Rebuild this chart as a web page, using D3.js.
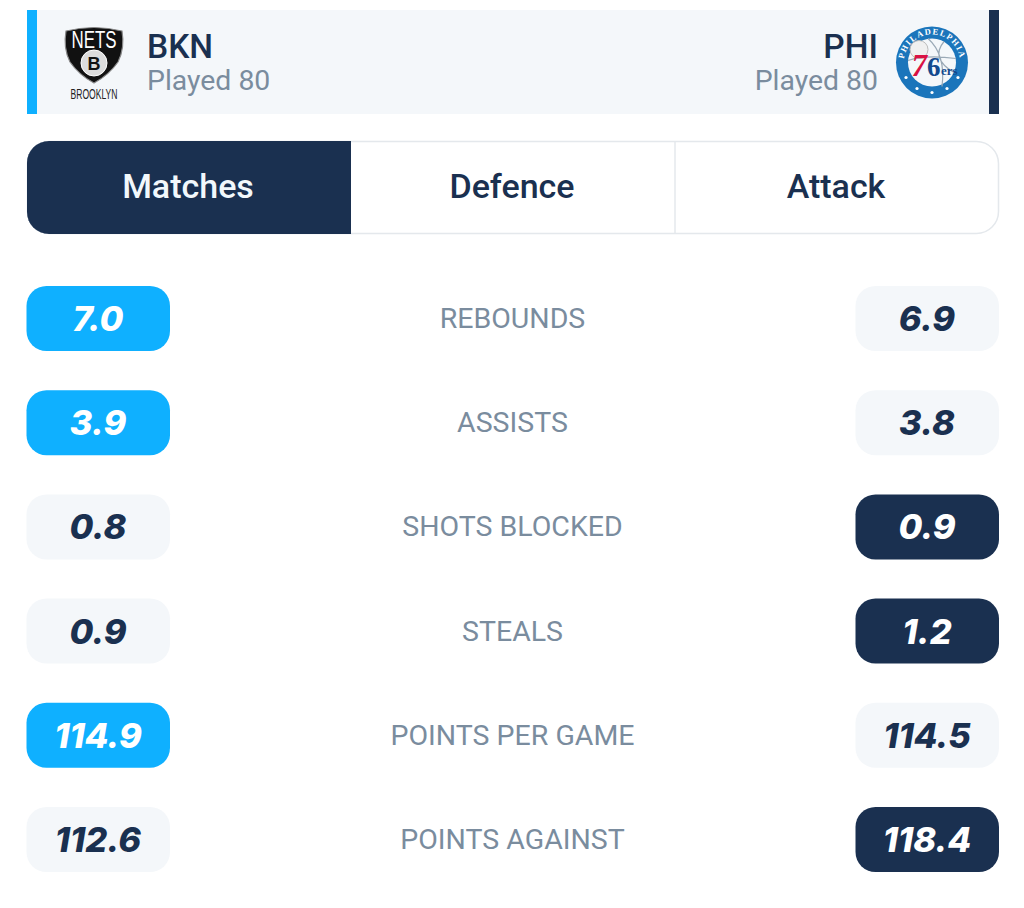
<!DOCTYPE html>
<html><head><meta charset="utf-8">
<script src="https://cdn.jsdelivr.net/npm/d3@7/dist/d3.min.js"></script>
<style>html,body{margin:0;padding:0;background:#fff}svg{display:block}</style>
</head><body><div id="c"></div>
<script>
const categories = ["REBOUNDS","ASSISTS","SHOTS BLOCKED","STEALS","POINTS PER GAME","POINTS AGAINST"];
const bknValues = ["7.0","3.9","0.8","0.9","114.9","112.6"];
const phiValues = ["6.9","3.8","0.9","1.2","114.5","118.4"];
const highlighted = ["BKN","BKN","PHI","PHI","BKN","PHI"];
const tabs = ["Matches","Defence","Attack"];
const teams = ["BKN","PHI"];
const played = ["Played 80","Played 80"];

const W=1024,H=908,BLUE="#0fb0ff",NAVY="#1a3050",PALE="#f4f7fa",GREY="#7a8c9e";
const svg=d3.select("#c").append("svg").attr("width",W).attr("height",H).attr("viewBox",`0 0 ${W} ${H}`);
const sans="Roboto, sans-serif", num="Inter, sans-serif", narrow="'Liberation Sans Narrow','Liberation Sans',sans-serif", serif="'Liberation Serif',serif";

// header
svg.append("rect").attr("x",27).attr("y",10).attr("width",972).attr("height",104).attr("fill",PALE);
svg.append("rect").attr("x",27).attr("y",10).attr("width",10).attr("height",104).attr("fill",BLUE);
svg.append("rect").attr("x",989).attr("y",10).attr("width",10).attr("height",104).attr("fill",NAVY);
svg.append("text").attr("x",147).attr("y",58).attr("font-family",sans).attr("font-weight",500).attr("font-size",33.5).attr("fill",NAVY).text(teams[0]);
svg.append("text").attr("x",147).attr("y",90).attr("font-family",sans).attr("font-size",28.4).attr("fill",GREY).text(played[0]);
svg.append("text").attr("x",878).attr("y",58).attr("text-anchor","end").attr("font-family",sans).attr("font-weight",500).attr("font-size",33.5).attr("fill",NAVY).text(teams[1]);
svg.append("text").attr("x",878).attr("y",90).attr("text-anchor","end").attr("font-family",sans).attr("font-size",28.4).attr("fill",GREY).text(played[1]);

// Nets logo
const n=svg.append("g").attr("transform","translate(94,54)");
n.append("path").attr("d","M-28,-23 Q0,-30 28,-23 Q31,-6 24,8 Q15,21 0,29 Q-15,21 -24,8 Q-31,-6 -28,-23Z").attr("fill","#111").attr("stroke","#888").attr("stroke-width",1.2);
n.append("text").attr("y",-6).attr("text-anchor","middle").attr("font-family",narrow).attr("font-size",24).attr("fill","#fff").attr("textLength",45).attr("lengthAdjust","spacingAndGlyphs").text("NETS");
n.append("circle").attr("cy",9).attr("r",13).attr("fill","#dcdcdc").attr("stroke","#fff");
n.append("text").attr("y",16).attr("text-anchor","middle").attr("font-family",narrow).attr("font-weight",700).attr("font-size",18).attr("fill","#111").text("B");
svg.append("text").attr("x",94).attr("y",99).attr("text-anchor","middle").attr("font-family",narrow).attr("font-size",15).attr("fill","#222").attr("textLength",47).attr("lengthAdjust","spacingAndGlyphs").text("BROOKLYN");

// 76ers logo
const s=svg.append("g").attr("transform","translate(932,62.5)");
s.append("circle").attr("r",36).attr("fill","#1b75bb");
s.append("circle").attr("r",24).attr("fill","#f4f7fa");
s.append("path").attr("d","M-4,-24 Q14,-8 10,24 M12,-21 Q-2,-4 22,10 M-24,-2 Q-6,-8 24,-4").attr("fill","none").attr("stroke","#9aa9b6").attr("stroke-width",1.2);
s.append("circle").attr("cx",-13).attr("cy",-13).attr("r",9).attr("fill","#f0f0f0").attr("stroke","#bbb");
s.append("defs").append("path").attr("id","arc").attr("d","M-26,11 A28.2,28.2 0 1 1 26,11");
s.append("text").attr("font-family",serif).attr("font-weight",700).attr("font-size",8.5).attr("fill","#fff").attr("letter-spacing",1.3)
  .append("textPath").attr("href","#arc").attr("startOffset","50%").attr("text-anchor","middle").text("PHILADELPHIA");
s.append("text").attr("x",-5).attr("y",13).attr("text-anchor","end").attr("font-family",serif).attr("font-weight",700).attr("font-style","italic").attr("font-size",31).attr("fill","#d91244").text("7");
s.append("text").attr("x",-5).attr("y",13).attr("font-family",serif).attr("font-weight",700).attr("font-size",27).attr("fill","#134a8e").text("6");
s.append("text").attr("x",9).attr("y",12).attr("font-family",serif).attr("font-weight",700).attr("font-size",13).attr("fill","#134a8e").text("ers");
const starAngles=[150,120,90,60,30];
s.selectAll("circle.star").data(starAngles).join("circle").attr("class","star")
  .attr("cx",a=>30*Math.cos(a*Math.PI/180)).attr("cy",a=>30*Math.sin(a*Math.PI/180)).attr("r",1.6).attr("fill","#fff");

// tabs
const tabX=d3.scaleBand().domain(tabs).range([27,999]);
const clip=svg.append("defs").append("clipPath").attr("id","tabclip");
clip.append("rect").attr("x",27).attr("y",141).attr("width",972).attr("height",93).attr("rx",22);
const tg=svg.append("g").attr("clip-path","url(#tabclip)");
tg.selectAll("rect.t").data(tabs).join("rect").attr("class","t")
  .attr("x",d=>tabX(d)).attr("y",141).attr("width",tabX.bandwidth()).attr("height",93)
  .attr("fill",(d,i)=>i===0?NAVY:"#fff");
tg.selectAll("line.t").data(tabs.slice(2)).join("line").attr("class","t")
  .attr("x1",d=>tabX(d)).attr("x2",d=>tabX(d)).attr("y1",141).attr("y2",234).attr("stroke","#e4e8ec").attr("stroke-width",1.5);
svg.append("rect").attr("x",27.5).attr("y",141.5).attr("width",971).attr("height",92).attr("rx",22).attr("fill","none").attr("stroke","#e4e8ec").attr("stroke-width",1.5);
svg.append("path").attr("d","M49,141H351V234H49A22,22 0 0 1 27,212V163A22,22 0 0 1 49,141Z").attr("fill",NAVY);
svg.selectAll("text.tab").data(tabs).join("text").attr("class","tab")
  .attr("x",d=>tabX(d)+tabX.bandwidth()/2-1).attr("y",198).attr("text-anchor","middle")
  .attr("font-family",sans).attr("font-weight",500).attr("font-size",34)
  .attr("fill",(d,i)=>i===0?"#f2f8fc":NAVY).text(d=>d);

// rows
const y=d3.scalePoint().domain(categories).range([318.5,839.5]);
const rows=svg.selectAll("g.row").data(categories).join("g").attr("class","row").attr("transform",d=>`translate(0,${y(d)})`);
rows.append("text").attr("x",512.5).attr("y",9.5).attr("text-anchor","middle").attr("font-family",sans).attr("font-size",28.5).attr("fill",GREY).text(d=>d);
function pills(x,vals,team,color){
  rows.append("rect").attr("x",x).attr("y",-32.5).attr("width",143.5).attr("height",65).attr("rx",20)
    .attr("fill",(d,i)=>highlighted[i]===team?color:PALE);
  rows.append("text").attr("x",x+71.5).attr("y",12.5).attr("text-anchor","middle")
    .attr("font-family",num).attr("font-weight",800).attr("font-style","italic").attr("font-size",34.5)
    .attr("fill",(d,i)=>highlighted[i]===team?"#fff":NAVY).text((d,i)=>vals[i]);
}
pills(26.5,bknValues,"BKN",BLUE);
pills(855.5,phiValues,"PHI",NAVY);
</script></body></html>
